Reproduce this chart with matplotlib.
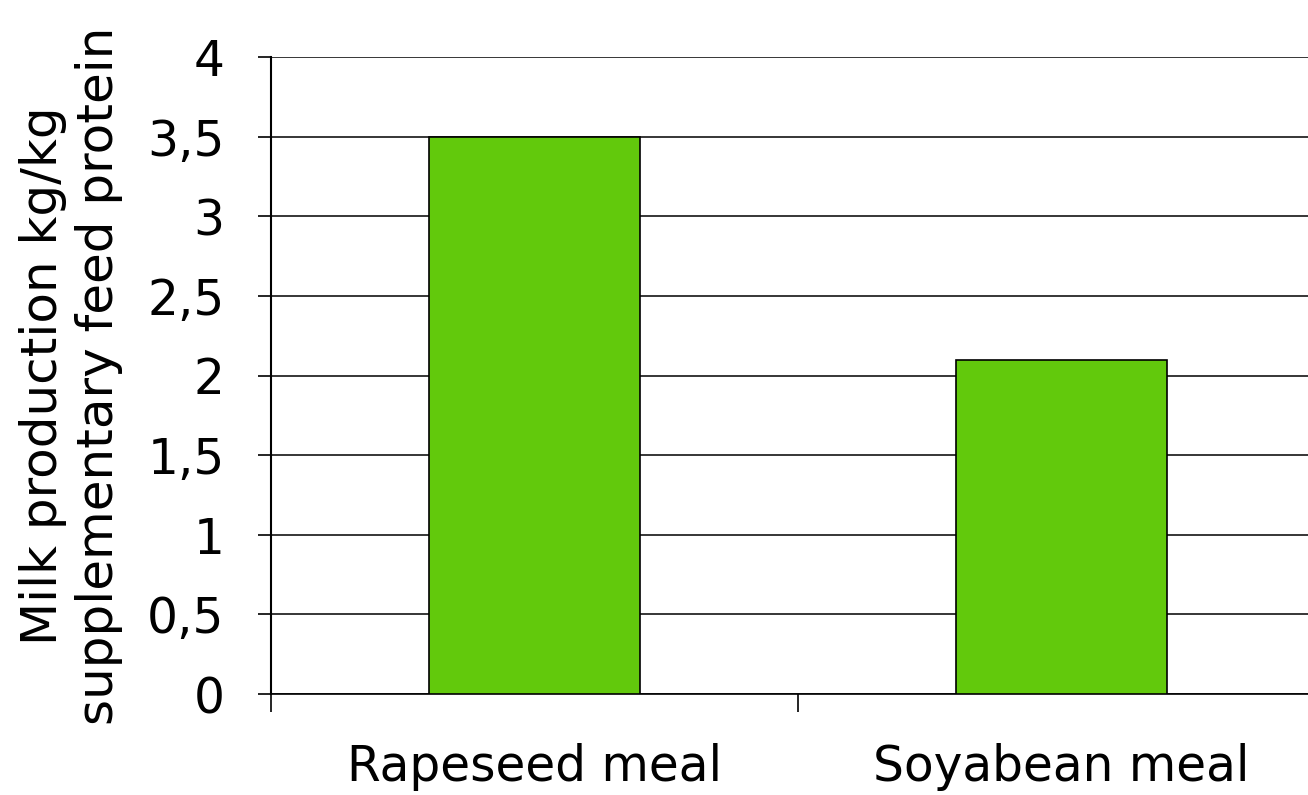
import matplotlib
matplotlib.use("Agg")
import matplotlib.pyplot as plt
from matplotlib.ticker import FixedLocator

categories = ["Rapeseed meal", "Soyabean meal"]
values = [3.5, 2.1]
yticks = [0, 0.5, 1, 1.5, 2, 2.5, 3, 3.5, 4]
ytick_labels = ["0", "0,5", "1", "1,5", "2", "2,5", "3", "3,5", "4"]
ylabel = "Milk production kg/kg\nsupplementary feed protein"

plt.rcParams['font.family'] = ['DejaVu Sans']

W, H = 1308, 795
fig = plt.figure(figsize=(W / 100, H / 100), dpi=100)
left, right, top, bottom = 271, 1325, 57, 694
ax = fig.add_axes([left / W, 1 - bottom / H, (right - left) / W, (bottom - top) / H])

x = list(range(len(categories)))
ax.bar(x, values, width=0.4, color="#62C90C", edgecolor="black", linewidth=1.2, zorder=3)

ax.set_xlim(-0.5, len(categories) - 0.5)
ax.set_ylim(0, 4)
ax.set_yticks(yticks)
ax.set_yticklabels(ytick_labels, fontsize=35)
ax.yaxis.grid(True, color="black", linewidth=1.1, zorder=0)
ax.set_axisbelow(True)

ax.set_xticks(x)
ax.set_xticklabels(categories, fontsize=35)
ax.tick_params(axis="x", which="major", length=0, pad=35)
ax.xaxis.set_minor_locator(FixedLocator([-0.5, 0.5, 1.5]))
ax.tick_params(axis="x", which="minor", length=13, width=1.2, direction="out")
ax.tick_params(axis="y", which="major", length=9.5, width=1.2, direction="out", pad=24)

for s in ["top", "right"]:
    ax.spines[s].set_visible(False)
ax.spines["left"].set_linewidth(1.5)
ax.spines["bottom"].set_linewidth(1.2)

fig.text(71 / W, 1 - 376 / H, ylabel, rotation=90, fontsize=36, ha="center", va="center",
         linespacing=1.2, multialignment="center")

fig.savefig("out.png", dpi=100)
